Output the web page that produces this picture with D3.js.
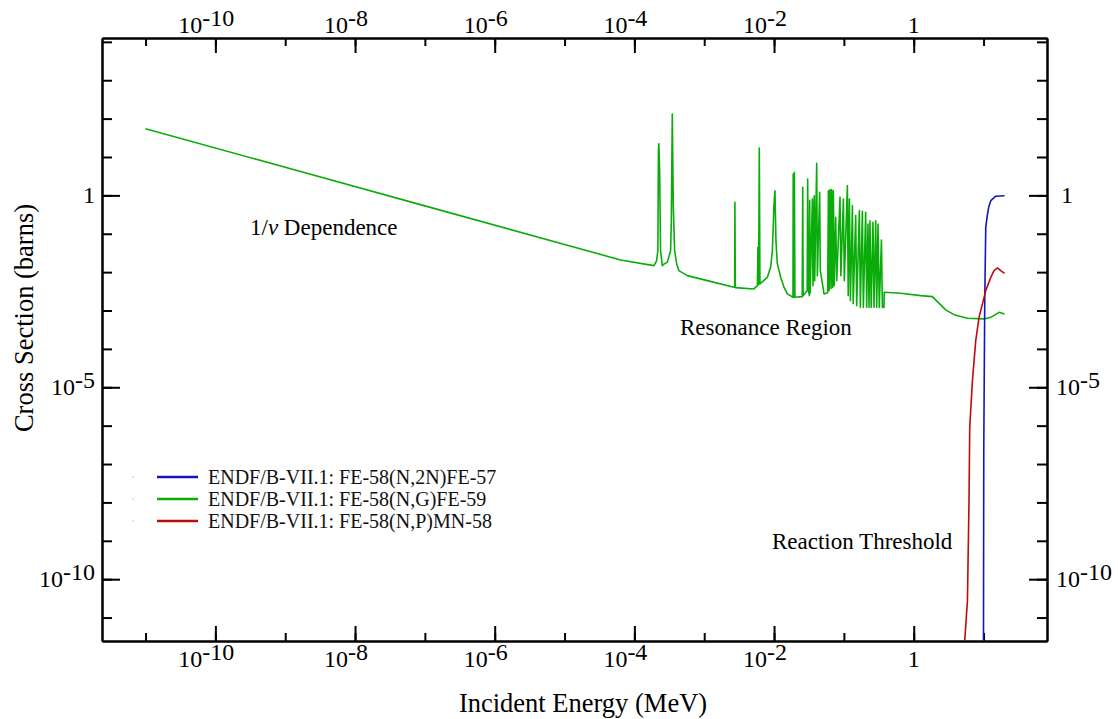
<!DOCTYPE html>
<html>
<head>
<meta charset="utf-8">
<script src="https://cdn.jsdelivr.net/npm/d3@7"></script>
<style>
  body { margin: 0; background: #fff; }
  svg { font-family: "Liberation Serif", "Times New Roman", serif; }
  .axis path, .axis line { stroke: #000; stroke-width: 2; }
</style>
</head>
<body>
<div id="chart"></div>
<script>
// ENDF/B-VII.1 cross sections, energies in MeV, cross sections in barns
const ngEnergy = [1e-11, 1e-9, 1e-7, 1e-5, 6.34e-5, 1.90e-4, 2.01e-4, 2.08e-4, 2.17e-4, 2.21e-4, 2.24e-4, 2.30e-4, 2.37e-4, 2.51e-4,
  2.71e-4, 2.96e-4, 3.30e-4, 3.38e-4, 3.49e-4, 3.61e-4, 3.77e-4, 4.03e-4, 4.34e-4, 5.73e-4, 1.107e-3, 2.66e-3,
  2.73e-3, 2.75e-3, 2.79e-3, 5.15e-3, 5.77e-3, 5.88e-3, 6.01e-3, 6.15e-3, 6.28e-3, 8.02e-3, 8.94e-3, 9.46e-3,
  9.97e-3, 1.03e-2, 1.064e-2, 1.114e-2, 1.244e-2, 1.386e-2, 1.552e-2, 1.867e-2, 1.88e-2, 1.91e-2, 1.955e-2, 1.99e-2,
  2.53e-2, 2.575e-2, 2.61e-2, 2.98e-2, 3.03e-2, 3.10e-2, 3.21e-2, 3.24e-2, 3.29e-2, 3.54e-2, 3.61e-2,
  3.76e-2, 3.82e-2, 4.08e-2, 4.17e-2, 4.50e-2, 4.60e-2, 5.19e-2, 5.86e-2, 6.00e-2, 6.15e-2, 6.32e-2,
  6.53e-2, 6.68e-2, 6.91e-2, 7.07e-2, 7.26e-2, 7.63e-2, 7.89e-2, 8.80e-2, 9.06e-2, 9.84e-2, 0.1014,
  0.1122, 0.1153, 0.120, 0.124, 0.1325, 0.136, 0.1476, 0.1525, 0.1667, 0.172, 0.184, 0.190, 0.205,
  0.212, 0.2215, 0.229, 0.2366, 0.246, 0.261, 0.270, 0.2855, 0.295, 0.308, 0.321, 0.345, 0.356,
  0.3756, 0.378, 0.651, 1.26, 1.85, 2.87, 3.78, 5.88, 10.2, 12.7, 16.7, 20];
const ngSigma = [54.6, 5.39, 0.533, 0.0526, 0.0208, 0.01476, 0.01726, 0.0200, 0.0363, 14.5, 22.2, 4.40, 0.0363, 0.01476,
  0.01665, 0.018, 0.0363, 0.198, 131.8, 0.487, 0.0363, 0.01665, 0.01094, 0.00811, 0.00601, 0.00402,
  0.00402, 0.657, 0.00395, 0.00365, 0.00445, 0.0443, 0.00473, 17.1, 0.00493, 0.00733, 0.01358, 0.0363,
  0.539, 1.325, 0.0661, 0.01665, 0.00733, 0.00409, 0.00271, 0.00221, 3.61, 0.00221, 3.97, 0.00222,
  0.0023, 1.615, 0.00244, 0.0033, 2.67, 0.0033, 0.00244, 0.728, 0.00292, 0.806, 0.00445,
  0.98, 0.0060, 6.81, 0.0081, 1.20, 0.01094, 0.00271, 0.00292, 1.325, 0.0033, 1.41,
  0.00372, 1.41, 0.00395, 1.325, 0.00445, 0.267, 0.0060, 0.887, 0.0081, 0.806, 0.0060,
  1.79, 0.00244, 0.806, 0.00181, 0.539, 0.00151, 0.296, 0.00134, 0.400, 0.00121, 0.383, 0.00121, 0.361,
  0.00121, 0.180, 0.00121, 0.219, 0.00121, 0.198, 0.00121, 0.219, 0.00121, 0.180, 0.00121, 0.069, 0.00121,
  0.00121, 0.00298, 0.00281, 0.00244, 0.0023, 0.00104, 7.8e-4, 6.27e-4, 6.04e-4, 6.65e-4, 8.97e-4, 8.15e-4];

const n2nEnergy = [9.97, 10.07, 10.4, 10.75, 11.3, 11.9, 12.7, 14.96, 20];
const n2nSigma = [1e-12, 2.25e-7, 1.81e-3, 0.147, 0.296, 0.508, 0.728, 0.953, 0.98];

const npEnergy = [5.15, 5.38, 5.88, 6.19, 6.34, 6.93, 7.73, 8.62, 9.64, 10.75, 12.7, 14.1, 15.8, 17.6, 20];
const npSigma = [1e-12, 2.53e-12, 2.79e-11, 1.12e-8, 9.08e-7, 1.49e-5, 1.64e-4, 6.65e-4, 1.49e-3, 3.30e-3,
  7.32e-3, 0.01094, 0.01285, 0.01094, 0.0093];

const seriesNames = ["ENDF/B-VII.1: FE-58(N,2N)FE-57", "ENDF/B-VII.1: FE-58(N,G)FE-59", "ENDF/B-VII.1: FE-58(N,P)MN-58"];
const seriesColors = ["#1414c4", "#0aac0a", "#bc0c0c"];

const xMinorTicks = d3.range(-11, 2).map(p => Math.pow(10, p));
const xMajorExp = [-10, -8, -6, -4, -2, 0];
const yMinorTicks = d3.range(-11, 5).map(p => Math.pow(10, p));
const yMajorExp = [-10, -5, 0];

const annotations = [
  { text: "Resonance Region", x: 680, y: 335 },
  { text: "Reaction Threshold", x: 772, y: 549 }
];

const W = 1118, H = 719;
const margin = { left: 102, right: 1047, top: 38, bottom: 641 };

const svg = d3.select("#chart").append("svg")
  .attr("width", W).attr("height", H);

const x = d3.scaleLog().domain([2.38e-12, 81]).range([margin.left, margin.right]);
const y = d3.scaleLog().domain([2.45e-12, 1.26e4]).range([margin.bottom, margin.top]);

svg.append("defs").append("clipPath").attr("id", "plotclip")
  .append("rect").attr("x", margin.left).attr("y", margin.top)
  .attr("width", margin.right - margin.left).attr("height", margin.bottom - margin.top);

// axes: minor ticks then major ticks, all pointing inward
const addAxis = (axisFn, scale, transform, ticks, size) => {
  svg.append("g").attr("class", "axis")
    .attr("transform", transform)
    .call(axisFn(scale).tickValues(ticks).tickSize(-size).tickSizeOuter(0).tickFormat(""));
};
const xMajor = xMajorExp.map(p => Math.pow(10, p));
const yMajor = yMajorExp.map(p => Math.pow(10, p));
addAxis(d3.axisBottom, x, `translate(0,${margin.bottom})`, xMinorTicks, 8);
addAxis(d3.axisBottom, x, `translate(0,${margin.bottom})`, xMajor, 15);
addAxis(d3.axisTop, x, `translate(0,${margin.top})`, xMinorTicks, 8);
addAxis(d3.axisTop, x, `translate(0,${margin.top})`, xMajor, 15);
addAxis(d3.axisLeft, y, `translate(${margin.left},0)`, yMinorTicks, 10);
addAxis(d3.axisLeft, y, `translate(${margin.left},0)`, yMajor, 18);
addAxis(d3.axisRight, y, `translate(${margin.right},0)`, yMinorTicks, 10);
addAxis(d3.axisRight, y, `translate(${margin.right},0)`, yMajor, 18);

// power-of-ten labels
const powerLabel = (sel, p) => {
  if (p === 0) {
    sel.append("tspan").text("1");
  } else {
    sel.append("tspan").text("10");
    sel.append("tspan").attr("dy", -7).text("-" + Math.abs(p));
  }
};
[33, 667].forEach(by => {
  xMajorExp.forEach(p => {
    const t = svg.append("text")
      .attr("x", x(Math.pow(10, p)) + (p === 0 ? 0 : -9))
      .attr("y", by)
      .attr("text-anchor", "middle")
      .style("font-size", "24px");
    powerLabel(t, p);
  });
});
yMajorExp.forEach(p => {
  const ty = y(Math.pow(10, p)) + 8;
  const tl = svg.append("text")
    .attr("x", 95).attr("y", ty)
    .attr("text-anchor", "end")
    .style("font-size", "24px");
  powerLabel(tl, p);
  const tr = svg.append("text")
    .attr("x", p === 0 ? 1061 : 1056).attr("y", ty)
    .attr("text-anchor", "start")
    .style("font-size", "24px");
  powerLabel(tr, p);
});

// axis titles
svg.append("text")
  .attr("x", 583).attr("y", 712)
  .attr("text-anchor", "middle")
  .style("font-size", "26.5px")
  .text("Incident Energy (MeV)");
svg.append("text")
  .attr("transform", "translate(33,318) rotate(-90)")
  .attr("text-anchor", "middle")
  .style("font-size", "26.5px")
  .text("Cross Section (barns)");

// curves
const line = d3.line()
  .x(d => x(d[0]))
  .y(d => y(d[1]));
const plot = svg.append("g").attr("clip-path", "url(#plotclip)");
const curves = [
  { e: n2nEnergy, s: n2nSigma, c: seriesColors[0] },
  { e: ngEnergy, s: ngSigma, c: seriesColors[1] },
  { e: npEnergy, s: npSigma, c: seriesColors[2] }
];
// draw green first so threshold lines sit on top
[1, 0, 2].forEach(i => {
  const cv = curves[i];
  plot.append("path")
    .datum(cv.e.map((e, j) => [e, cv.s[j]]))
    .attr("fill", "none")
    .attr("stroke", cv.c)
    .attr("stroke-width", 1.6)
    .attr("stroke-linejoin", "round")
    .attr("d", line);
});

// annotations
const ann = svg.append("text")
  .attr("x", 250).attr("y", 235)
  .style("font-size", "23px");
ann.append("tspan").text("1/");
ann.append("tspan").style("font-style", "italic").text("v");
ann.append("tspan").text(" Dependence");
annotations.forEach(a => {
  svg.append("text")
    .attr("x", a.x).attr("y", a.y)
    .style("font-size", "23px")
    .text(a.text);
});

// legend
const legend = svg.append("g");
seriesNames.forEach((name, i) => {
  const ly = 477 + i * 22;
  legend.append("circle")
    .attr("cx", 133).attr("cy", ly).attr("r", 0.8)
    .attr("fill", seriesColors[i]).attr("opacity", 0.3);
  legend.append("line")
    .attr("x1", 157).attr("x2", 198)
    .attr("y1", ly).attr("y2", ly)
    .attr("stroke", seriesColors[i])
    .attr("stroke-width", 2.5);
  legend.append("text")
    .attr("x", 208).attr("y", ly + 7)
    .style("font-size", "20px")
    .attr("fill", "#111")
    .text(name);
});
</script>
</body>
</html>
